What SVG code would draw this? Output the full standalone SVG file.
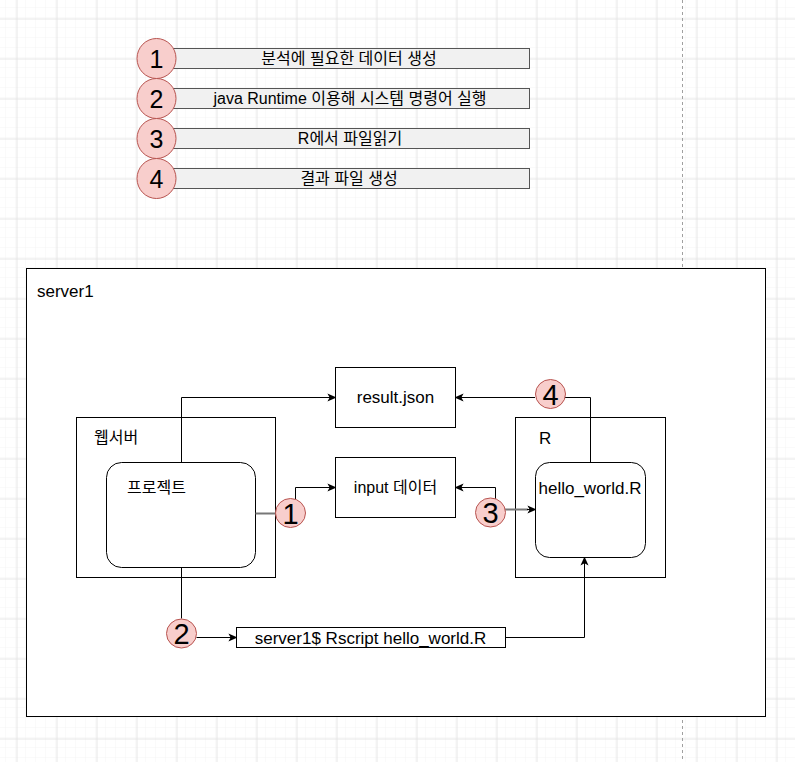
<svg xmlns="http://www.w3.org/2000/svg" width="795" height="762" viewBox="0 0 795 762">
  <defs>
    <pattern id="minor" width="10" height="10" patternUnits="userSpaceOnUse" x="6" y="8">
      <path d="M10 0V10M0 10H10" fill="none" stroke="#f4f4f4" stroke-width="1"/>
    </pattern>
    <pattern id="major" width="40" height="40" patternUnits="userSpaceOnUse" x="16.5" y="18.5">
      <path d="M0.5 0V40M0 0.5H40" fill="none" stroke="#e6e6e6" stroke-width="1"/>
    </pattern>
    <marker id="arr" viewBox="0 0 10 10" refX="9" refY="5" markerWidth="9" markerHeight="9" markerUnits="userSpaceOnUse" orient="auto">
      <path d="M0,0.5 L10,5 L0,9.5 L2.5,5 Z" fill="#000"/>
    </marker>
    <style>
      text { font-family: "Liberation Sans", "Noto Sans CJK KR", Arial, sans-serif; fill: #000; }
      .lbl { font-size: 16px; }
      .lat { font-size: 17px; }
      .c { text-anchor: middle; }
      .box { fill: #fff; stroke: #000; stroke-width: 1; }
      .leg { fill: #f1f1f1; stroke: #555; stroke-width: 1; }
      .num { fill: #f8cecc; stroke: #b85450; stroke-width: 1; }
      .n24 { font-size: 25px; text-anchor: middle; }
      .n28 { font-size: 29px; text-anchor: middle; }
      .edge { fill: none; stroke: #000; stroke-width: 1; }
      .gedge { fill: none; stroke: #777; stroke-width: 2; }
    </style>
  </defs>

  <rect width="795" height="762" fill="#fff"/>
  <rect width="795" height="762" fill="url(#minor)"/>
  <rect width="795" height="762" fill="url(#major)"/>
  <line x1="682.5" y1="0" x2="682.5" y2="762" stroke="#a0a0a0" stroke-dasharray="3 3"/>

  <!-- Legend -->
  <g id="legend1">
    <rect class="leg" x="166.5" y="48.5" width="363" height="20"/>
    <ellipse class="num" cx="156.5" cy="58.5" rx="19.5" ry="20"/>
    <text class="n24" x="156.5" y="67.5">1</text>
    <text class="lbl c" x="349" y="64">분석에 필요한 데이터 생성</text>
  </g>
  <g id="legend2">
    <rect class="leg" x="166.5" y="88.5" width="363" height="20"/>
    <ellipse class="num" cx="156.5" cy="98.5" rx="19.5" ry="20"/>
    <text class="n24" x="156.5" y="107.5">2</text>
    <text class="lbl c" x="350" y="104">java Runtime 이용해 시스템 명령어 실행</text>
  </g>
  <g id="legend3">
    <rect class="leg" x="166.5" y="128.5" width="363" height="20"/>
    <ellipse class="num" cx="156.5" cy="138.5" rx="19.5" ry="20"/>
    <text class="n24" x="156.5" y="147.5">3</text>
    <text class="lbl c" x="350" y="144">R에서 파일읽기</text>
  </g>
  <g id="legend4">
    <rect class="leg" x="166.5" y="168.5" width="363" height="20"/>
    <ellipse class="num" cx="156.5" cy="178.5" rx="19.5" ry="20"/>
    <text class="n24" x="156.5" y="187.5">4</text>
    <text class="lbl c" x="349" y="184">결과 파일 생성</text>
  </g>

  <!-- server1 container -->
  <g id="server1">
    <rect class="box" x="26.5" y="268.5" width="739" height="448"/>
    <text class="lat" x="37" y="297">server1</text>
  </g>

  <g id="webserver">
    <rect class="box" x="76.5" y="417.5" width="199" height="160"/>
    <text class="lbl" x="94" y="443">웹서버</text>
  </g>
  <g id="project">
    <rect class="box" x="106.5" y="462.5" width="149" height="105" rx="15" ry="15"/>
    <text class="lbl" x="127" y="493">프로젝트</text>
  </g>
  <g id="result">
    <rect class="box" x="335.5" y="367.5" width="120" height="60"/>
    <text class="lat c" x="395.5" y="403">result.json</text>
  </g>
  <g id="input">
    <rect class="box" x="335.5" y="457.5" width="120" height="60"/>
    <text class="lbl c" x="395.5" y="493">input 데이터</text>
  </g>
  <g id="rbox">
    <rect class="box" x="515.5" y="417.5" width="150" height="160"/>
    <text class="lat" x="539" y="444">R</text>
  </g>
  <g id="hello">
    <rect class="box" x="535.5" y="462.5" width="110" height="95" rx="14" ry="14"/>
    <text class="lat c" x="590" y="494">hello_world.R</text>
  </g>
  <g id="cmd">
    <rect class="box" x="236.5" y="627.5" width="269" height="20"/>
    <text class="lat c" x="370.5" y="643.5">server1$ Rscript hello_world.R</text>
  </g>

  <!-- connectors -->
  <g id="connectors">
    <path class="edge" d="M181.5 462.5 V397.5 H335.5" marker-end="url(#arr)"/>
    <path class="gedge" d="M255.5 513.5 H276"/>
    <path class="edge" d="M295.5 499 V487.5 H335.5" marker-end="url(#arr)"/>
    <path class="edge" d="M181.5 567.5 V618.5"/>
    <path class="edge" d="M196.5 637.5 H236.5" marker-end="url(#arr)"/>
    <path class="edge" d="M505.5 637.5 H584.5 V557.5" marker-end="url(#arr)"/>
    <path class="edge" d="M590.5 462.5 V397.5 H565"/>
    <path class="edge" d="M535 397.5 H455.5" marker-end="url(#arr)"/>
    <path class="edge" d="M495.5 499 V487.5 H455.5" marker-end="url(#arr)"/>
    <path class="gedge" d="M505 509.5 H528"/>
    <path class="edge" d="M527 509.5 H535.5" marker-end="url(#arr)"/>
  </g>

  <!-- step markers -->
  <g id="step1">
    <ellipse class="num" cx="290.5" cy="513" rx="15" ry="14.5"/>
    <text class="n28" x="290.5" y="523.5">1</text>
  </g>
  <g id="step2">
    <ellipse class="num" cx="181.5" cy="633.5" rx="15" ry="14.5"/>
    <text class="n28" x="181.5" y="644">2</text>
  </g>
  <g id="step3">
    <ellipse class="num" cx="490.5" cy="512.5" rx="15" ry="14.5"/>
    <text class="n28" x="490.5" y="523">3</text>
  </g>
  <g id="step4">
    <ellipse class="num" cx="550.5" cy="394" rx="15" ry="14.5"/>
    <text class="n28" x="550.5" y="404.5">4</text>
  </g>
</svg>
